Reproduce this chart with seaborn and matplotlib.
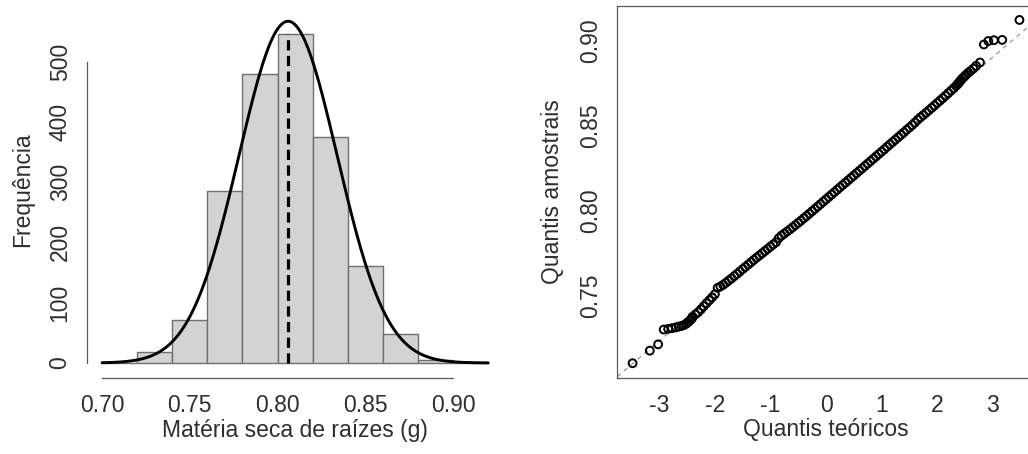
import numpy as np
import pandas as pd
import matplotlib
matplotlib.use("Agg")
import matplotlib.pyplot as plt
import seaborn as sns

# ---------------- data ----------------
bin_edges = [0.70, 0.72, 0.74, 0.76, 0.78, 0.80, 0.82, 0.84, 0.86, 0.88, 0.90, 0.92]
bin_counts = [0, 18, 72, 286, 479, 545, 374, 161, 48, 5, 1]
fit_mean = 0.806
fit_sd = 0.028

hist_xticks = [0.70, 0.75, 0.80, 0.85, 0.90]
hist_xticklabels = ["0.70", "0.75", "0.80", "0.85", "0.90"]
hist_yticks = [0, 100, 200, 300, 400, 500]

qq_theoretical = [
    -3.48, -3.17, -3.02, -2.92, -2.84, -2.77, -2.70, -2.65, -2.60, -2.56, -2.52, -2.49, -2.46, -2.43, -2.41,
    -2.40, -2.35, -2.30, -2.25, -2.20, -2.15, -2.10, -2.05, -2.00, -1.95, -1.90, -1.85, -1.80, -1.75,
    -1.70, -1.65, -1.60, -1.55, -1.50, -1.45, -1.40, -1.35, -1.30, -1.25, -1.20, -1.15, -1.10, -1.05,
    -1.00, -0.95, -0.90, -0.85, -0.80, -0.75, -0.70, -0.65, -0.60, -0.55, -0.50, -0.45, -0.40, -0.35,
    -0.30, -0.25, -0.20, -0.15, -0.10, -0.05, 0.00, 0.05, 0.10, 0.15, 0.20, 0.25, 0.30, 0.35, 0.40,
    0.45, 0.50, 0.55, 0.60, 0.65, 0.70, 0.75, 0.80, 0.85, 0.90, 0.95, 1.00, 1.05, 1.10, 1.15, 1.20,
    1.25, 1.30, 1.35, 1.40, 1.45, 1.50, 1.55, 1.60, 1.65, 1.70, 1.75, 1.80, 1.85, 1.90, 1.95, 2.00,
    2.05, 2.10, 2.15, 2.20, 2.25, 2.30,
    2.34, 2.37, 2.39, 2.41, 2.43, 2.46, 2.49, 2.52, 2.56, 2.60, 2.65, 2.70, 2.77, 2.84, 2.92, 3.02, 3.17, 3.48,
]
qq_sample = [
    0.7105, 0.7179, 0.7216, 0.7303, 0.7307, 0.7311, 0.7316, 0.7320, 0.7324, 0.7329, 0.7336, 0.7344, 0.7352, 0.7362, 0.7370,
    0.7378, 0.7392, 0.7405, 0.7422, 0.7440, 0.7458, 0.7475, 0.7492, 0.7510, 0.7548, 0.7556, 0.7566, 0.7578, 0.7591,
    0.7603, 0.7617, 0.7630, 0.7644, 0.7658, 0.7671, 0.7685, 0.7698, 0.7712, 0.7725, 0.7738, 0.7751, 0.7764, 0.7777,
    0.7790, 0.7803, 0.7816, 0.7840, 0.7855, 0.7867, 0.7879, 0.7891, 0.7904, 0.7917, 0.7930, 0.7943, 0.7957, 0.7970,
    0.7984, 0.7998, 0.8012, 0.8026, 0.8040, 0.8054, 0.8068, 0.8082, 0.8096, 0.8110, 0.8124, 0.8138, 0.8152, 0.8166, 0.8180,
    0.8194, 0.8208, 0.8222, 0.8236, 0.8250, 0.8264, 0.8278, 0.8292, 0.8306, 0.8320, 0.8334, 0.8348, 0.8362, 0.8377, 0.8391, 0.8405,
    0.8419, 0.8433, 0.8447, 0.8461, 0.8476, 0.8490, 0.8504, 0.8519, 0.8536, 0.8550, 0.8563, 0.8577, 0.8591, 0.8605, 0.8619, 0.8634,
    0.8648, 0.8662, 0.8677, 0.8692, 0.8707, 0.8722,
    0.8735, 0.8745, 0.8752, 0.8762, 0.8770, 0.8780, 0.8790, 0.8800, 0.8812, 0.8822, 0.8836, 0.8852, 0.8872, 0.8978, 0.8998, 0.9003, 0.9005, 0.9122,
]
qq_line_intercept = 0.807
qq_line_slope = 0.0278

qq_xticks = [-3, -2, -1, 0, 1, 2, 3]
qq_yticks = [0.75, 0.80, 0.85, 0.90]
qq_yticklabels = ["0.75", "0.80", "0.85", "0.90"]

# ---------------- style ----------------
sns.set_style("white")
plt.rcParams["font.family"] = ["Liberation Sans", "DejaVu Sans"]
plt.rcParams["axes.unicode_minus"] = False
TEXT = "#2e2e2e"
AXC = "#5a5a5a"
FS = 16.5

W, H = 1028, 454
fig = plt.figure(figsize=(W / 100, H / 100), dpi=100)


def px_axes(l, r, t, b):
    return fig.add_axes([l / W, 1 - b / H, (r - l) / W, (b - t) / H])


# ---------------- left: histogram ----------------
ax1 = px_axes(86.6, 503.6, 2, 378)
edges = np.array(bin_edges)
centers = (edges[:-1] + edges[1:]) / 2
hist_df = pd.DataFrame({"x": centers, "w": bin_counts})
sns.histplot(data=hist_df, x="x", weights="w", bins=bin_edges, ax=ax1,
             color="#d3d3d3", edgecolor="#6f6f6f", linewidth=1.0, alpha=1.0)

bw = edges[1] - edges[0]
n_total = sum(bin_counts)
xs = np.linspace(bin_edges[0], bin_edges[-1], 400)
ys = n_total * bw * np.exp(-0.5 * ((xs - fit_mean) / fit_sd) ** 2) / (fit_sd * np.sqrt(2 * np.pi))
curve_df = pd.DataFrame({"x": xs, "y": ys})
sns.lineplot(data=curve_df, x="x", y="y", ax=ax1, color="black", linewidth=2.1)
ax1.plot([fit_mean, fit_mean], [0, max(bin_counts)], color="black", linewidth=2.3,
         linestyle=(0, (3.2, 1.7)))

ax1.set_xlim(0.6912, 0.9288)
ax1.set_ylim(-24.9, 598.7)
ax1.spines["top"].set_visible(False)
ax1.spines["right"].set_visible(False)
ax1.spines["left"].set_bounds(0, 500)
ax1.spines["bottom"].set_bounds(0.70, 0.90)
for s in ("left", "bottom"):
    ax1.spines[s].set_color(AXC)
    ax1.spines[s].set_linewidth(0.9)
ax1.set_xticks(hist_xticks)
ax1.set_xticklabels(hist_xticklabels)
ax1.set_yticks(hist_yticks)
ax1.tick_params(axis="both", direction="out", length=5.8, width=0.9, color=AXC,
                labelsize=FS, labelcolor=TEXT)
ax1.tick_params(axis="x", pad=6)
ax1.tick_params(axis="y", pad=5, labelrotation=90)
for lab in ax1.get_yticklabels():
    lab.set_va("center")
ax1.set_xlabel("Matéria seca de raízes (g)", fontsize=FS, color=TEXT)
ax1.set_ylabel("Frequência", fontsize=FS, color=TEXT)
ax1.xaxis.label.set_va("center")
ax1.yaxis.label.set_va("center")
ax1.xaxis.set_label_coords(0.5, -0.14)
ax1.yaxis.set_label_coords(-0.154, 0.5)

# ---------------- right: QQ plot ----------------
ax2 = px_axes(617.3, 1035, 6, 377.7)
qq_df = pd.DataFrame({"teo": qq_theoretical, "amo": qq_sample})
ax2.axline((0, qq_line_intercept), slope=qq_line_slope, color="#8a8a8a",
           linewidth=0.8, linestyle=(0, (4, 4)), zorder=1)
sns.scatterplot(data=qq_df, x="teo", y="amo", ax=ax2, marker="o", s=32,
                facecolor="none", edgecolor="black", linewidth=1.4, zorder=2)
ax2.set_xlim(-3.755, 3.76)
ax2.set_ylim(0.702, 0.9204)
for s in ax2.spines.values():
    s.set_color(AXC)
    s.set_linewidth(0.9)
ax2.set_xticks(qq_xticks)
ax2.set_yticks(qq_yticks)
ax2.set_yticklabels(qq_yticklabels)
ax2.tick_params(axis="both", direction="out", length=5.8, width=0.9, color=AXC,
                labelsize=FS, labelcolor=TEXT)
ax2.tick_params(axis="x", pad=6)
ax2.tick_params(axis="y", pad=5, labelrotation=90)
for lab in ax2.get_yticklabels():
    lab.set_va("center")
ax2.set_xlabel("Quantis teóricos", fontsize=FS, color=TEXT)
ax2.set_ylabel("Quantis amostrais", fontsize=FS, color=TEXT)
ax2.xaxis.label.set_va("center")
ax2.yaxis.label.set_va("center")
ax2.xaxis.set_label_coords(0.5, -0.14)
ax2.yaxis.set_label_coords(-0.156, 0.5)

fig.savefig("out.png", dpi=100)
